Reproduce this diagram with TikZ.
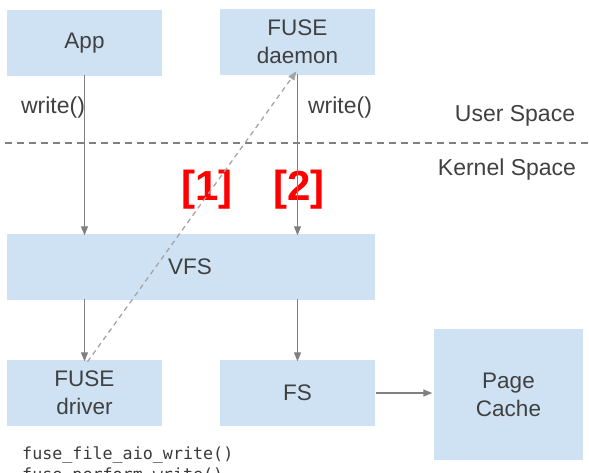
\documentclass[tikz,border=0pt]{standalone}
\usepackage{fontspec}
\setmainfont{Liberation Sans}
\newfontfamily\codefont{DejaVu Sans Mono}
\usetikzlibrary{arrows.meta}
\definecolor{boxfill}{HTML}{CFE2F3}
\definecolor{txt}{HTML}{404040}
\definecolor{lineg}{HTML}{808080}
\definecolor{diag}{HTML}{A4A4A4}
\begin{document}
\begin{tikzpicture}[x=1pt,y=-1pt,
  box/.style={draw=none,fill=boxfill,inner sep=0pt,text=txt,font=\fontsize{22.5}{28}\selectfont,align=center},
  arr/.style={draw=lineg,line width=1.2pt,-{Triangle[length=9pt,width=7pt]}},
  darr/.style={draw=diag,line width=1.3pt,dash pattern=on 5pt off 4pt,-{Triangle[length=9pt,width=7pt]}},
  sep/.style={draw=lineg,line width=1.5pt,dash pattern=on 7pt off 5pt},
  lbl/.style={text=txt,font=\fontsize{23}{26}\selectfont,inner sep=0pt},
  num/.style={text=red,font=\bfseries\fontsize{42}{42}\selectfont,inner sep=0pt},
  code/.style={text=txt!90!black,font=\codefont\fontsize{16.7}{21}\selectfont,inner sep=0pt,anchor=base west}]
\useasboundingbox (0,0) rectangle (589,472);
\begin{scope}
\clip (0,0) rectangle (589,472);
% boxes
\node[box,minimum width=155pt,minimum height=66pt] (app) at (84.5,43) {App};
\node[box,minimum width=155pt,minimum height=66pt] (daemon) at (297.5,42) {FUSE\\daemon};
\node[box,minimum width=368pt,minimum height=66pt] (vfs) at (191,267) {\hspace*{-2pt}VFS};
\node[box,minimum width=155pt,minimum height=66pt] (driver) at (84.5,393) {FUSE\\driver};
\node[box,minimum width=155pt,minimum height=66pt] (fs) at (297.5,393) {FS};
\node[box,minimum width=149pt,minimum height=131pt] (cache) at (508.5,394.5) {Page\\Cache};
% separator
\coordinate (sepL) at (5,143);
\coordinate (sepR) at (589,143);
\draw[sep] (sepL) -- (sepR);
% labels
\node[lbl] (wl) at (53,108) {write()};
\node[lbl] (wr) at (340,108) {write()};
\node[lbl] (userlbl) at (515,116) {User Space};
\node[lbl] (kernellbl) at (507,170) {Kernel Space};
\node[num] (n1) at (207,190) {[1]};
\node[num] (n2) at (299,190) {[2]};
% arrows
\draw[arr] ([yshift=1pt]app.south) -- ([yshift=-1.5pt]app.south |- vfs.north);
\draw[arr] ([yshift=1pt]daemon.south) -- ([yshift=-1.5pt]daemon.south |- vfs.north);
\draw[arr] ([yshift=1pt]app.south |- vfs.south) -- ([yshift=-1.5pt]driver.north);
\draw[arr] ([yshift=1pt]daemon.south |- vfs.south) -- ([yshift=-1.5pt]fs.north);
\draw[arr] ([xshift=1pt]fs.east) -- ([xshift=-1.5pt]fs.east -| cache.west);
\draw[darr] ([xshift=3pt,yshift=-2pt]driver.north) -- ([xshift=-1pt,yshift=4pt]daemon.south);
% code text
\node[code] (codeA) at (22,459) {fuse\_file\_aio\_write()};
\node[code] (codeB) at (22,480) {fuse\_perform\_write()};
\end{scope}
\end{tikzpicture}
\end{document}
